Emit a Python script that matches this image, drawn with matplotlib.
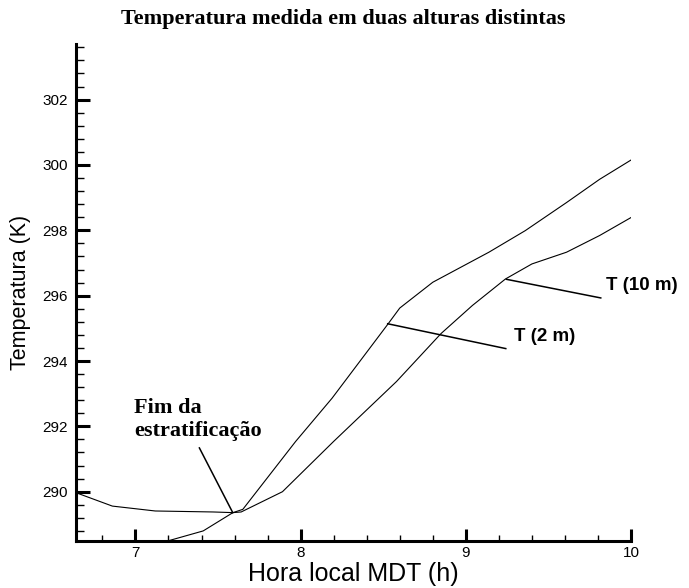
import matplotlib
matplotlib.use("Agg")
import matplotlib.pyplot as plt
from matplotlib.ticker import MultipleLocator

# Hora local (h) e temperatura (K) nos dois níveis
hora_10m = [6.64, 6.86, 7.12, 7.47, 7.59, 7.64, 7.89, 8.20, 8.58, 8.85, 9.04, 9.24, 9.40, 9.61, 9.81, 10.0]
temp_10m = [289.97, 289.56, 289.41, 289.38, 289.36, 289.38, 290.00, 291.54, 293.37, 294.84, 295.70, 296.51, 296.97, 297.33, 297.84, 298.39]

hora_2m = [7.20, 7.41, 7.59, 7.65, 7.97, 8.19, 8.53, 8.60, 8.80, 9.14, 9.36, 9.61, 9.81, 10.0]
temp_2m = [288.50, 288.80, 289.36, 289.46, 291.54, 292.86, 295.14, 295.62, 296.41, 297.33, 297.99, 298.85, 299.56, 300.15]

sans = "Liberation Sans"
serif = "Liberation Serif"

fig = plt.figure(figsize=(6.89, 5.88), dpi=100)
ax = fig.add_axes([0.1103, 0.0804, 0.8055, 0.8447])

ax.plot(hora_10m, temp_10m, color="black", lw=0.8)
ax.plot(hora_2m, temp_2m, color="black", lw=0.8)

ax.set_xlim(6.64, 10)
ax.set_ylim(288.5, 303.7)

ax.xaxis.set_major_locator(MultipleLocator(1))
ax.xaxis.set_minor_locator(MultipleLocator(0.2))
ax.yaxis.set_major_locator(MultipleLocator(2))
ax.yaxis.set_minor_locator(MultipleLocator(0.4))

for s in ["top", "right"]:
    ax.spines[s].set_visible(False)
for s in ["left", "bottom"]:
    ax.spines[s].set_linewidth(2.2)

ax.tick_params(axis="y", which="major", direction="in", length=10, width=2.2, pad=6)
ax.tick_params(axis="y", which="minor", direction="in", length=5.5, width=1.0)
ax.tick_params(axis="x", which="major", direction="in", length=9, width=2.2, pad=4)
ax.tick_params(axis="x", which="minor", direction="in", length=4, width=1.0)
for lab in ax.get_xticklabels() + ax.get_yticklabels():
    lab.set_fontfamily(sans)
    lab.set_fontsize(11)

ax.set_xlabel("Hora local MDT (h)", family=sans, fontsize=18, labelpad=1)
ax.set_ylabel("Temperatura (K)", family=sans, fontsize=15.5, labelpad=8)

fig.text(0.498, 0.968, "Temperatura medida em duas alturas distintas",
         family=serif, fontweight="bold", fontsize=16, ha="center", va="center")

# linhas de chamada
ax.plot([7.387, 7.589], [291.34, 289.36], color="black", lw=1.1)
ax.plot([8.527, 9.242], [295.14, 294.38], color="black", lw=1.1)
ax.plot([9.246, 9.817], [296.50, 295.93], color="black", lw=1.1)

ax.text(6.994, 291.72, "Fim da\nestratificação", family=serif, fontweight="bold",
        fontsize=16, ha="left", va="baseline", linespacing=1.15)
ax.text(9.293, 294.74, "T (2 m)", family=sans, fontweight="bold",
        fontsize=13.5, ha="left", va="center", clip_on=False)
ax.text(9.847, 296.31, "T (10 m)", family=sans, fontweight="bold",
        fontsize=13.5, ha="left", va="center", clip_on=False)

fig.savefig("out.png", dpi=100)
